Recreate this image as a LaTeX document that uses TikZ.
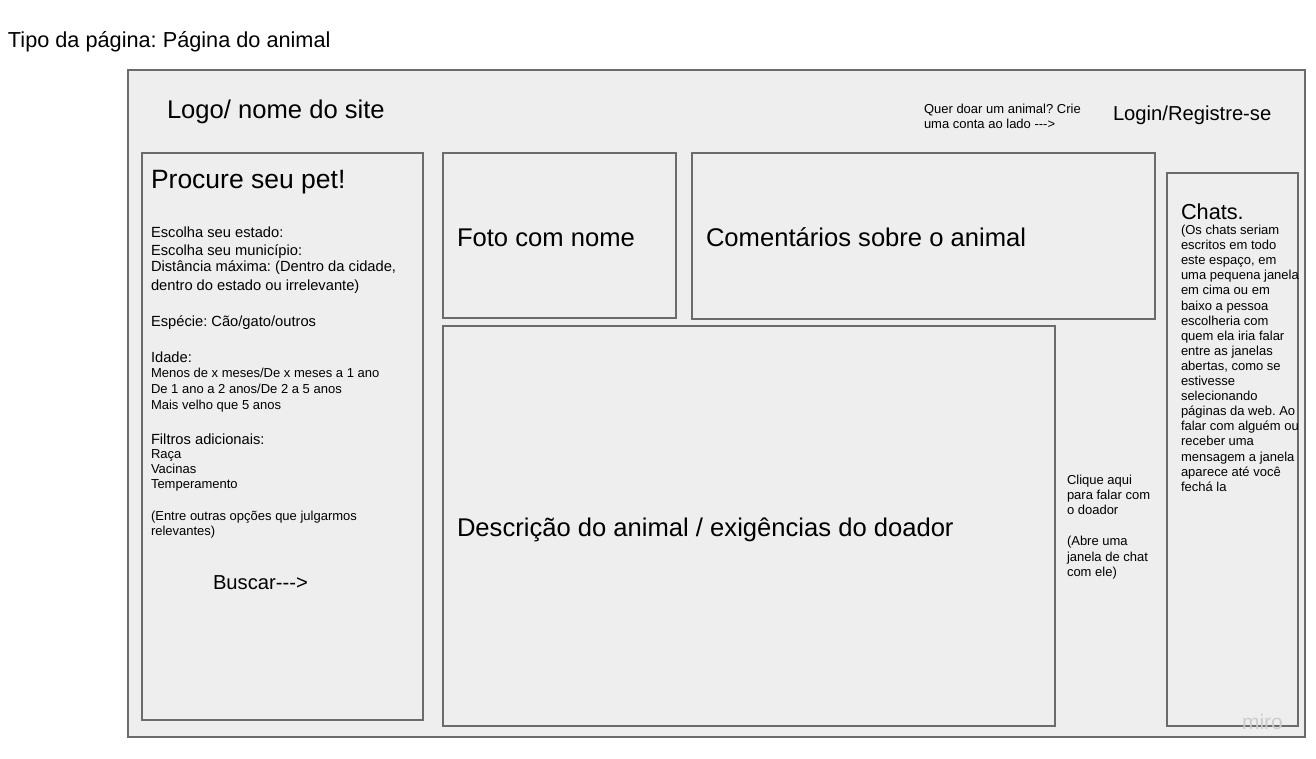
\documentclass[tikz,border=0pt]{standalone}
\usepackage{fontspec}
\setmainfont{Liberation Sans}[Ligatures=TeXOff]
\frenchspacing
\newlength{\du}
\setlength{\du}{1pt}
\definecolor{wirefill}{rgb}{0.933333, 0.933333, 0.933333}
\definecolor{wireline}{rgb}{0.420000, 0.420000, 0.420000}
\definecolor{markgray}{rgb}{0.800000, 0.800000, 0.800000}
\tikzset{
  wirebox/.style={draw=wireline, fill=wirefill, line width=1.500000\du},
  lbl/.style={anchor=base west, inner sep=0pt, outer sep=0pt, text=black},
  ftitle/.style={lbl, font=\fontsize{21.7}{25}\selectfont},
  fbig/.style={lbl, font=\fontsize{25.6}{30}\selectfont},
  fhead/.style={lbl, font=\fontsize{20.2}{24}\selectfont},
  fbody/.style={lbl, font=\fontsize{14.7}{17.5}\selectfont},
  fsmall/.style={lbl, font=\fontsize{13.0}{15.5}\selectfont},
  fmark/.style={lbl, text=markgray, font=\fontsize{21}{24}\selectfont},
}

\begin{document}
\begin{tikzpicture}
\pgftransformxscale{1.000000}
\pgftransformyscale{-1.000000}
\useasboundingbox (0.000000\du,0.000000\du) rectangle (1316.000000\du,759.000000\du);
% page frame
{
\filldraw[wirebox] (128.000000\du,70.000000\du) rectangle (1305.000000\du,737.000000\du);
}
% search panel
{
\filldraw[wirebox] (142.000000\du,153.000000\du) rectangle (423.000000\du,720.000000\du);
}
% photo
{
\filldraw[wirebox] (443.000000\du,153.000000\du) rectangle (676.000000\du,318.000000\du);
}
% comments
{
\filldraw[wirebox] (692.000000\du,153.000000\du) rectangle (1155.000000\du,319.000000\du);
}
% description
{
\filldraw[wirebox] (443.000000\du,326.000000\du) rectangle (1055.000000\du,726.000000\du);
}
% chats
{
\filldraw[wirebox] (1167.000000\du,173.000000\du) rectangle (1298.000000\du,726.000000\du);
}
% header texts
\node[ftitle] (tipo) at (8.000000\du,48.000000\du){Tipo da página: Página do animal};
\node[fbig] (logo) at (167.000000\du,119.000000\du){Logo/ nome do site};
\node[fsmall] (querA) at (924.000000\du,113.500000\du){Quer doar um animal? Crie};
\node[fsmall] (querB) at (924.000000\du,129.000000\du){uma conta ao lado --->};
\node[fhead] (login) at (1113.000000\du,121.000000\du){Login/Registre-se};
% search panel texts
\node[fbig] (procure) at (151.000000\du,189.000000\du){\fontsize{26.5}{30}\selectfont Procure seu pet!};
\node[fbody] (estado) at (151.000000\du,238.000000\du){Escolha seu estado:};
\node[fbody] (municipio) at (151.000000\du,255.000000\du){Escolha seu município:};
\node[fbody] (distA) at (151.000000\du,272.000000\du){Distância máxima: (Dentro da cidade,};
\node[fbody] (distB) at (151.000000\du,290.000000\du){dentro do estado ou irrelevante)};
\node[fbody] (especie) at (151.000000\du,326.000000\du){Espécie: Cão/gato/outros};
\node[fbody] (idade) at (151.000000\du,362.000000\du){Idade:};
\node[fsmall] (idadeA) at (151.000000\du,377.500000\du){Menos de x meses/De x meses a 1 ano};
\node[fsmall] (idadeB) at (151.000000\du,393.500000\du){De 1 ano a 2 anos/De 2 a 5 anos};
\node[fsmall] (idadeC) at (151.000000\du,409.500000\du){Mais velho que 5 anos};
\node[fbody] (filtros) at (151.000000\du,444.000000\du){Filtros adicionais:};
\node[fsmall] (raca) at (151.000000\du,458.500000\du){Raça};
\node[fsmall] (vacinas) at (151.000000\du,473.500000\du){Vacinas};
\node[fsmall] (temper) at (151.000000\du,488.500000\du){Temperamento};
\node[fsmall] (outrasA) at (151.000000\du,520.500000\du){(Entre outras opções que julgarmos};
\node[fsmall] (outrasB) at (151.000000\du,535.500000\du){relevantes)};
\node[fhead] (buscar) at (213.000000\du,589.000000\du){Buscar--->};
% box titles
\node[fbig] (foto) at (457.000000\du,247.000000\du){Foto com nome};
\node[fbig] (coment) at (706.000000\du,247.000000\du){Comentários sobre o animal};
\node[fbig] (descr) at (457.000000\du,536.000000\du){Descrição do animal / exigências do doador};
% talk to the donor
\node[fsmall] (cliqueA) at (1067.000000\du,484.500000\du){Clique aqui};
\node[fsmall] (cliqueB) at (1067.000000\du,499.500000\du){para falar com};
\node[fsmall] (cliqueC) at (1067.000000\du,514.500000\du){o doador};
\node[fsmall] (abreA) at (1067.000000\du,545.500000\du){(Abre uma};
\node[fsmall] (abreB) at (1067.000000\du,561.500000\du){janela de chat};
\node[fsmall] (abreC) at (1067.000000\du,576.500000\du){com ele)};
% chats column
\node[ftitle] (chats) at (1181.000000\du,219.500000\du){Chats.};
\node[fsmall] (chatA) at (1181.000000\du,234.500000\du){(Os chats seriam};
\node[fsmall] (chatB) at (1181.000000\du,249.600000\du){escritos em todo};
\node[fsmall] (chatC) at (1181.000000\du,264.700000\du){este espaço, em};
\node[fsmall] (chatD) at (1181.000000\du,279.800000\du){uma pequena janela};
\node[fsmall] (chatE) at (1181.000000\du,294.900000\du){em cima ou em};
\node[fsmall] (chatF) at (1181.000000\du,310.000000\du){baixo a pessoa};
\node[fsmall] (chatG) at (1181.000000\du,325.100000\du){escolheria com};
\node[fsmall] (chatH) at (1181.000000\du,340.200000\du){quem ela iria falar};
\node[fsmall] (chatI) at (1181.000000\du,355.300000\du){entre as janelas};
\node[fsmall] (chatJ) at (1181.000000\du,370.400000\du){abertas, como se};
\node[fsmall] (chatK) at (1181.000000\du,385.500000\du){estivesse};
\node[fsmall] (chatL) at (1181.000000\du,400.600000\du){selecionando};
\node[fsmall] (chatM) at (1181.000000\du,415.700000\du){páginas da web. Ao};
\node[fsmall] (chatN) at (1181.000000\du,430.800000\du){falar com alguém ou};
\node[fsmall] (chatO) at (1181.000000\du,445.900000\du){receber uma};
\node[fsmall] (chatP) at (1181.000000\du,461.000000\du){mensagem a janela};
\node[fsmall] (chatQ) at (1181.000000\du,476.100000\du){aparece até você};
\node[fsmall] (chatR) at (1181.000000\du,491.200000\du){fechá la};
% watermark
\node[fmark] (miro) at (1242.000000\du,729.000000\du){miro};
\end{tikzpicture}
\end{document}
